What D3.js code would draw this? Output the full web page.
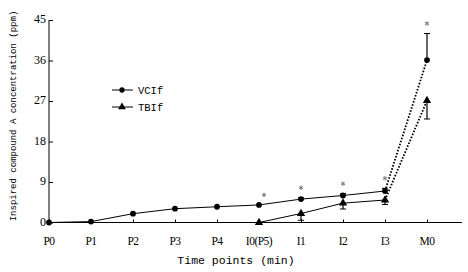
<!DOCTYPE html>
<html>
<head>
<meta charset="utf-8">
<script src="https://cdn.jsdelivr.net/npm/d3@7"></script>
<style>
  body { margin: 0; background: #fff; }
  svg { display: block; }
</style>
</head>
<body>
<script>
// time points on the x axis
const timePoints = ["P0", "P1", "P2", "P3", "P4", "I0(P5)", "I1", "I2", "I3", "M0"]
const yTicks = [0, 9, 18, 27, 36, 45]

// VCIf: mean and (upward) error bar
const vcifValues = [0, 0.2, 1.96, 3.07, 3.5, 3.9, 5.2, 6.0, 7.0, 36.1]
const vcifErrors = [0, 0, 0, 0, 0, 0, 0.3, 0.4, 0.6, 5.9]

// TBIf only starts at I0(P5); error bar drawn downward
const tbifPoints = ["I0(P5)", "I1", "I2", "I3", "M0"]
const tbifValues = [0, 2.0, 4.3, 5.0, 27.1]
const tbifErrors = [0, 1.5, 1.3, 1.0, 4.1]

// significance marks
const starPoints = ["I0(P5)", "I1", "I2", "I3", "M0"]

const W = 468, H = 272
const svg = d3.select('body').append('svg')
  .attr('width', W)
  .attr('height', H)

const x = d3.scalePoint().domain(timePoints).range([49, 427])
const y = d3.scaleLinear().domain([0, 45]).range([222.5, 20])

const serif = '"Liberation Serif", "DejaVu Serif", serif'
const mono = '"Liberation Mono", "DejaVu Sans Mono", monospace'

// axes
const yAxis = svg.append('g').attr('transform', 'translate(49,0)')
  .call(d3.axisRight(y).tickValues(yTicks).tickSize(4).tickFormat(''))
yAxis.select('.domain').attr('d', `M0,${y(0)}V${y(45)}`)
yAxis.selectAll('line, path').attr('stroke', '#000')

svg.append('g').selectAll('text')
  .data(yTicks)
  .enter()
  .append('text')
  .attr('x', 46)
  .attr('y', d => y(d) + 3)
  .attr('text-anchor', 'end')
  .attr('font-family', serif)
  .attr('font-size', 12)
  .text(d => d)

const xAxis = svg.append('g').attr('transform', `translate(0,${y(0)})`)
  .call(d3.axisTop(x).tickSize(3).tickFormat(''))
xAxis.select('.domain').attr('d', `M49,0H462`)
xAxis.selectAll('line, path').attr('stroke', '#000')

svg.append('g').selectAll('text')
  .data(timePoints)
  .enter()
  .append('text')
  .attr('x', d => x(d))
  .attr('y', 245)
  .attr('text-anchor', 'middle')
  .attr('font-family', serif)
  .attr('font-size', 11.5)
  .attr('letter-spacing', -0.5)
  .text(d => d)

svg.append('text')
  .attr('x', 236)
  .attr('y', 264)
  .attr('text-anchor', 'middle')
  .attr('font-family', mono)
  .attr('font-size', 11.5)
  .text('Time points (min)')

svg.append('text')
  .attr('transform', 'translate(16,116) rotate(-90)')
  .attr('text-anchor', 'middle')
  .attr('font-family', mono)
  .attr('font-size', 9)
  .text('Inspired compound A concentration (ppm)')

// series
const vcif = timePoints.map((t, i) => ({ t, v: vcifValues[i], e: vcifErrors[i] }))
const tbif = tbifPoints.map((t, i) => ({ t, v: tbifValues[i], e: tbifErrors[i] }))

function drawSeries(data, dir, marker) {
  const g = svg.append('g')
  const line = d3.line().x(d => x(d.t)).y(d => y(d.v))
  const n = data.length
  // solid part, last segment dotted
  g.append('path')
    .attr('d', line(data.slice(0, n - 1)))
    .attr('fill', 'none')
    .attr('stroke', '#000')
    .attr('stroke-width', 1)
  g.append('path')
    .attr('d', line(data.slice(n - 2)))
    .attr('fill', 'none')
    .attr('stroke', '#000')
    .attr('stroke-width', 1.8)
    .attr('stroke-dasharray', '1.6,1.6')
  // error bars
  const eb = g.selectAll('.eb').data(data.filter(d => d.e > 0)).enter().append('g')
  eb.append('line')
    .attr('x1', d => x(d.t)).attr('x2', d => x(d.t))
    .attr('y1', d => y(d.v)).attr('y2', d => y(d.v + dir * d.e))
    .attr('stroke', '#000').attr('stroke-width', 1.2)
  eb.append('line')
    .attr('x1', d => x(d.t) - 3).attr('x2', d => x(d.t) + 3)
    .attr('y1', d => y(d.v + dir * d.e)).attr('y2', d => y(d.v + dir * d.e))
    .attr('stroke', '#000').attr('stroke-width', 1)
  g.selectAll('.mk').data(data).enter().append('path')
    .attr('transform', d => `translate(${x(d.t)},${y(d.v)})`)
    .attr('d', d3.symbol().type(marker).size(marker === d3.symbolCircle ? 26 : 30))
    .attr('fill', '#000')
}

drawSeries(vcif, 1, d3.symbolCircle)
drawSeries(tbif, -1, d3.symbolTriangle)

// asterisks above VCIf
svg.append('g').selectAll('path')
  .data(starPoints)
  .enter()
  .append('path')
  .attr('transform', (d, i) => {
    const k = timePoints.indexOf(d)
    return `translate(${x(d) + (i === 0 ? 5 : 0)},${y(vcifValues[k] + vcifErrors[k]) - 10})`
  })
  .attr('d', d3.symbol().type(d3.symbolAsterisk).size(14))
  .attr('fill', 'none')
  .attr('stroke', '#777')
  .attr('stroke-width', 1)

// legend
const legendItems = [
  { name: 'VCIf', marker: d3.symbolCircle, yy: 90 },
  { name: 'TBIf', marker: d3.symbolTriangle, yy: 107 }
]
const lg = svg.append('g').selectAll('g').data(legendItems).enter().append('g')
lg.append('line')
  .attr('x1', 112).attr('x2', 133)
  .attr('y1', d => d.yy).attr('y2', d => d.yy)
  .attr('stroke', '#000')
lg.append('path')
  .attr('transform', d => `translate(122,${d.yy})`)
  .attr('d', d => d3.symbol().type(d.marker).size(d.marker === d3.symbolCircle ? 22 : 26)())
  .attr('fill', '#000')
lg.append('text')
  .attr('x', 138)
  .attr('y', d => d.yy + 4)
  .attr('font-family', mono)
  .attr('font-size', 10.5)
  .text(d => d.name)
</script>
</body>
</html>
